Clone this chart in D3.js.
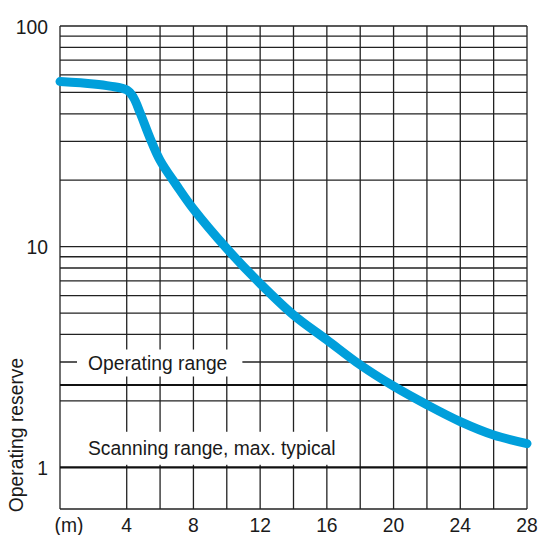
<!DOCTYPE html>
<html>
<head>
<meta charset="utf-8">
<script src="https://cdn.jsdelivr.net/npm/d3@7"></script>
<style>
  body { margin: 0; background: #fff; }
  text { font-family: "Liberation Sans", Arial, sans-serif; fill: #1a1a1a; }
</style>
</head>
<body>
<div id="chart"></div>
<script>
// operating reserve vs distance (m)
var distance = [0, 2, 3, 4, 4.4, 4.8, 5.4, 6, 7, 8, 10, 12, 14, 16, 18, 20, 22, 24, 26, 28];
var reserve  = [56, 54.6, 53.4, 51.3, 47.5, 40.5, 31, 24.6, 18.9, 14.8, 9.8, 6.8, 4.9, 3.78, 2.91, 2.33, 1.92, 1.61, 1.40, 1.28];

var xTickLabels = [4, 8, 12, 16, 20, 24, 28];
var xGridLines  = [0, 4, 6, 8, 10, 12, 14, 16, 18, 20, 22, 24, 26, 28];
var yTickLabels = [1, 10, 100];
var yGridLines  = [2, 3, 4, 5, 6, 7, 8, 9, 10, 20, 30, 40, 50, 60, 70, 80, 90, 100];

var operatingLevel = 2.36;
var scanningLevel = 1;
var operatingText = "Operating range";
var scanningText = "Scanning range, max. typical";

var width = 539,
    height = 535;
var fontSize = "19.3px";

var svg = d3.select("#chart").append("svg")
    .attr("width", width)
    .attr("height", height);

var x = d3.scaleLinear().domain([0, 28]).range([60, 527]);
var y = d3.scaleLog().domain([0.647, 100]).range([509, 26]);

var gridColor = "#222";

// vertical grid
svg.selectAll(".vgrid")
  .data(xGridLines)
  .enter()
  .append("line")
    .attr("x1", function(d){ return x(d) })
    .attr("x2", function(d){ return x(d) })
    .attr("y1", y(100))
    .attr("y2", y.range()[0])
    .attr("stroke", gridColor)
    .attr("stroke-width", 1.3)

// horizontal grid
svg.selectAll(".hgrid")
  .data(yGridLines)
  .enter()
  .append("line")
    .attr("x1", x(0))
    .attr("x2", x(28))
    .attr("y1", function(d){ return y(d) })
    .attr("y2", function(d){ return y(d) })
    .attr("stroke", gridColor)
    .attr("stroke-width", 1.3)

// bottom border
svg.append("line")
    .attr("x1", x(0)).attr("x2", x(28))
    .attr("y1", y.range()[0]).attr("y2", y.range()[0])
    .attr("stroke", gridColor)
    .attr("stroke-width", 1.3)

// labels with white box behind them
function boxLabel(txt, cy, padL, padR, padY) {
  var t = svg.append("text")
      .attr("x", 88)
      .attr("y", cy)
      .attr("dy", "0.35em")
      .style("font-size", fontSize)
      .text(txt);
  var b = t.node().getBBox();
  svg.insert("rect", "text")
      .attr("x", b.x - padL)
      .attr("y", cy - padY)
      .attr("width", b.width + padL + padR)
      .attr("height", padY * 2)
      .attr("fill", "#fff");
}
boxLabel(operatingText, y(operatingLevel) - 22, 11, 15, 13.5);
boxLabel(scanningText, y(scanningLevel) - 19, 11, 7, 16.5);

// threshold lines
svg.selectAll(".thresh")
  .data([operatingLevel, scanningLevel])
  .enter()
  .append("line")
    .attr("x1", x(0))
    .attr("x2", x(28))
    .attr("y1", function(d){ return y(d) })
    .attr("y2", function(d){ return y(d) })
    .attr("stroke", "#111")
    .attr("stroke-width", 2.2)

// y tick labels
svg.selectAll(".ylab")
  .data(yTickLabels)
  .enter()
  .append("text")
    .attr("x", 48)
    .attr("y", function(d){ return y(d) + 1 })
    .attr("dy", "0.35em")
    .attr("text-anchor", "end")
    .style("font-size", fontSize)
    .text(function(d){ return d })

// x tick labels
svg.selectAll(".xlab")
  .data(xTickLabels)
  .enter()
  .append("text")
    .attr("x", function(d){ return x(d) })
    .attr("y", 532)
    .attr("text-anchor", "middle")
    .style("font-size", fontSize)
    .text(function(d){ return d })

svg.append("text")
    .attr("x", 69)
    .attr("y", 532)
    .attr("text-anchor", "middle")
    .style("font-size", fontSize)
    .text("(m)");

// y axis title
svg.append("text")
    .attr("transform", "translate(23," + 435 + ") rotate(-90)")
    .attr("text-anchor", "middle")
    .style("font-size", fontSize)
    .text("Operating reserve");

// the curve
var line = d3.line()
    .x(function(d){ return x(d[0]) })
    .y(function(d){ return y(d[1]) })
    .curve(d3.curveCatmullRom.alpha(0.5));

svg.append("path")
    .datum(d3.zip(distance, reserve))
    .attr("d", line)
    .attr("fill", "none")
    .attr("stroke", "#009fdb")
    .attr("stroke-width", 9)
    .attr("stroke-linecap", "round")
    .attr("stroke-linejoin", "round");
</script>
</body>
</html>
